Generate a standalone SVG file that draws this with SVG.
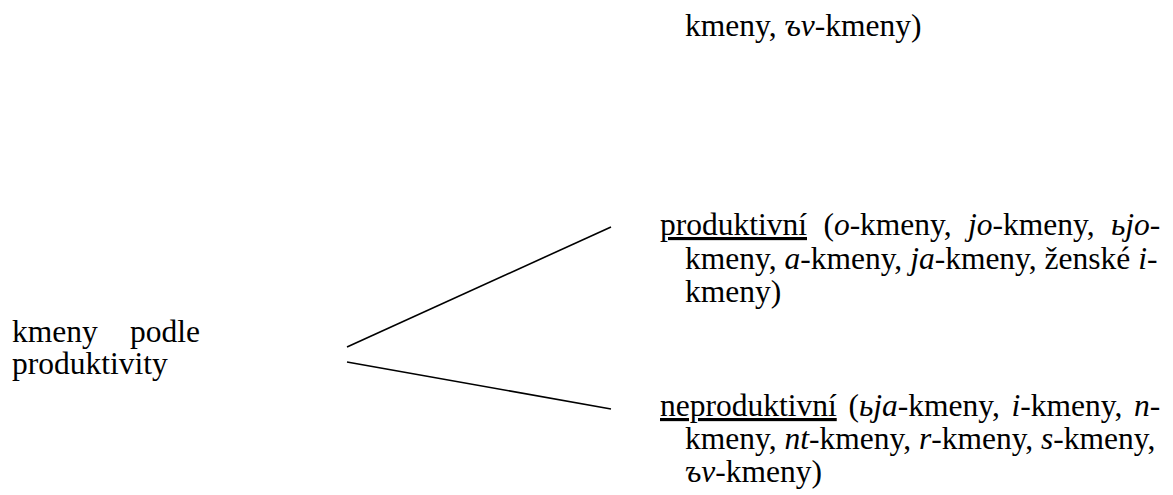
<svg xmlns="http://www.w3.org/2000/svg" width="1173" height="495" viewBox="0 0 1173 495">
<style>
text{font-family:"Liberation Serif","Times New Roman",serif;font-size:31.5px;fill:#000}
.i{font-style:italic}
.u{text-decoration:underline}
.c{stroke:#000;stroke-width:1.6;fill:none}
</style>
<rect width="1173" height="495" fill="#fff"/>
<g id="top-fragment">
<text x="685" y="36">kmeny, <tspan class="i">ъv</tspan>-kmeny)</text>
</g>
<g id="root">
<text x="12" y="342">kmeny</text>
<text x="200" y="342" text-anchor="end">podle</text>
<text x="12" y="374">produktivity</text>
</g>
<g id="productive">
<text x="660" y="235" word-spacing="8.5"><tspan class="u">produktivní</tspan> (<tspan class="i">o</tspan>-kmeny, <tspan class="i">jo</tspan>-kmeny, <tspan class="i">ьjo</tspan>-</text>
<text x="685" y="269">kmeny, <tspan class="i">a</tspan>-kmeny, <tspan class="i">ja</tspan>-kmeny, ženské <tspan class="i">i</tspan>-</text>
<text x="685" y="302">kmeny)</text>
</g>
<g id="unproductive">
<text x="660" y="416" word-spacing="3.8"><tspan class="u">neproduktivní</tspan> (<tspan class="i">ьja</tspan>-kmeny, <tspan class="i">i</tspan>-kmeny, <tspan class="i">n</tspan>-</text>
<text x="685" y="449">kmeny, <tspan class="i">nt</tspan>-kmeny, <tspan class="i">r</tspan>-kmeny, <tspan class="i">s</tspan>-kmeny,</text>
<text x="685" y="482"><tspan class="i">ъv</tspan>-kmeny)</text>
</g>
<g id="connectors">
<line class="c" x1="347" y1="347" x2="611" y2="227"/>
<line class="c" x1="347" y1="362" x2="611" y2="409"/>
</g>
</svg>
